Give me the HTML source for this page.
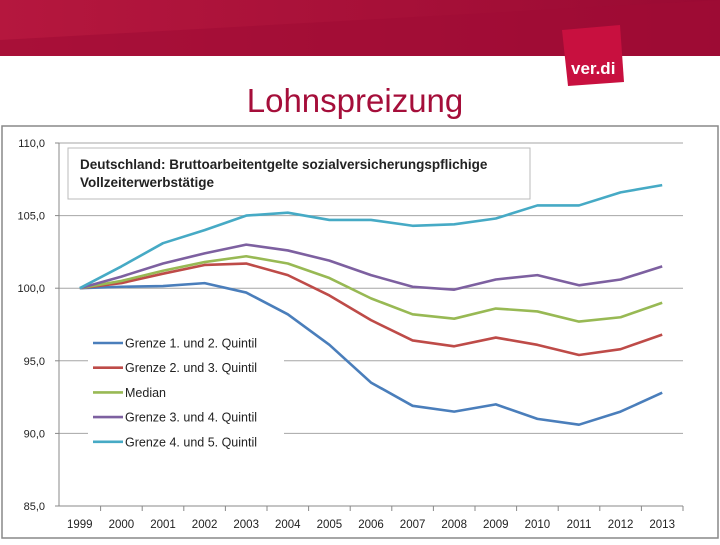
<!DOCTYPE html>
<html><head><meta charset="utf-8"><style>
body{margin:0;width:720px;height:540px;overflow:hidden;background:#fff;font-family:"Liberation Sans",sans-serif;}
</style></head><body>
<svg width="720" height="540" xmlns="http://www.w3.org/2000/svg">
<defs><linearGradient id="hg" x1="0" y1="0" x2="1" y2="0"><stop offset="0" stop-color="#b5173e"/><stop offset="1" stop-color="#9a0a33"/></linearGradient></defs>
<rect x="0" y="0" width="720" height="56" fill="url(#hg)"/>
<polygon points="0,56 0,40 720,0 720,56" fill="#a00c36" opacity="0.6"/>
<polygon points="562,30 620,25 624,82 568,86" fill="#c8103f"/>
<text x="571" y="74" font-size="17" font-weight="bold" fill="#fff">ver.di</text>
<text x="355" y="112" font-size="33" fill="#a50e3a" text-anchor="middle">Lohnspreizung</text>
<rect x="2" y="126" width="716" height="412" fill="#fff" stroke="#888" stroke-width="1.5"/>
<g id="chart"></g>
</svg>
<script>
const years=["1999","2000","2001","2002","2003","2004","2005","2006","2007","2008","2009","2010","2011","2012","2013"];
const yTicks=[85,90,95,100,105,110];
const seriesNames=["Grenze 1. und 2. Quintil","Grenze 2. und 3. Quintil","Median","Grenze 3. und 4. Quintil","Grenze 4. und 5. Quintil"];
const q12=[100,100.1,100.15,100.35,99.7,98.2,96.1,93.5,91.9,91.5,92.0,91.0,90.6,91.5,92.8];
const q23=[100,100.35,101.0,101.6,101.7,100.9,99.5,97.8,96.4,96.0,96.6,96.1,95.4,95.8,96.8];
const median=[100,100.5,101.2,101.8,102.2,101.7,100.7,99.3,98.2,97.9,98.6,98.4,97.7,98.0,99.0];
const q34=[100,100.8,101.7,102.4,103.0,102.6,101.9,100.9,100.1,99.9,100.6,100.9,100.2,100.6,101.5];
const q45=[100,101.5,103.1,104.0,105.0,105.2,104.7,104.7,104.3,104.4,104.8,105.7,105.7,106.6,107.1];
const colors=["#4a7ebb","#be4b48","#98b954","#7d60a0","#46aac5"];
const series=[q12,q23,median,q34,q45];
const NS="http://www.w3.org/2000/svg";
const g=document.getElementById("chart");
const x0=59,x1=683,yTop=143,yBot=506,vMin=85,vMax=110;
const bw=(x1-x0)/years.length;
const X=i=>x0+bw*(i+0.5);
const Y=v=>yBot-(v-vMin)/(vMax-vMin)*(yBot-yTop);
function mk(t,a,p){const e=document.createElementNS(NS,t);for(const k in a)e.setAttribute(k,a[k]);(p||g).appendChild(e);return e;}
yTicks.forEach(v=>{
 if(v>vMin){const l=mk("line",{x1:x0,x2:x1,y1:Y(v),y2:Y(v),stroke:"#a6a6a6","stroke-width":1});
 
 }
 const t=mk("text",{x:45,y:Y(v)+4,"font-size":11,"text-anchor":"end",fill:"#222"});t.textContent=v.toFixed(1).replace(".",",");
 
 
 mk("line",{x1:x0-4,x2:x0,y1:Y(v),y2:Y(v),stroke:"#888"});
});
const ax=mk("line",{x1:x0,x2:x0,y1:yTop,y2:yBot,stroke:"#888"});


const bx=mk("line",{x1:x0,x2:x1,y1:yBot,y2:yBot,stroke:"#888"});


years.forEach((y,i)=>{
 mk("line",{x1:x0+bw*(i+1),x2:x0+bw*(i+1),y1:yBot,y2:yBot+5,stroke:"#888"});
 const t=mk("text",{x:X(i),y:528,"font-size":11.5,"text-anchor":"middle",fill:"#222"});t.textContent=y;
 
 
});
series.forEach((s,k)=>{
 const p=mk("polyline",{points:s.map((v,i)=>X(i)+","+Y(v)).join(" "),fill:"none",stroke:colors[k],"stroke-width":2.6,"stroke-linejoin":"round"});
 
 
});
const lb=mk("rect",{x:88,y:330,width:196,height:122,fill:"#fff"});


seriesNames.forEach((n,k)=>{
 const yy=343+k*24.7;
 mk("line",{x1:93,x2:123,y1:yy,y2:yy,stroke:colors[k],"stroke-width":2.6});
 const t=mk("text",{x:125,y:yy+4.5,"font-size":12.5,fill:"#222"});t.textContent=n;
 
 
});
const tb=mk("rect",{x:68,y:148,width:462,height:51,fill:"#fff",stroke:"#bbb"});


["Deutschland: Bruttoarbeitentgelte sozialversicherungspflichige","Vollzeiterwerbstätige"].forEach((s,i)=>{
 const t=mk("text",{x:80,y:169+i*18,"font-size":13.5,"font-weight":"bold",fill:"#222"});t.textContent=s;
 
 
});
</script>
</body></html>
